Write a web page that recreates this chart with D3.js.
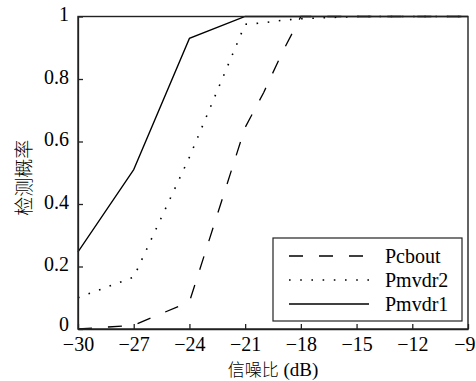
<!DOCTYPE html>
<html lang="zh">
<head>
<meta charset="utf-8">
<title>检测概率</title>
<style>
  body { margin: 0; background: #fff; }
</style>
</head>
<body>
<script src="https://cdn.jsdelivr.net/npm/d3@7"></script>
<script>
// data
var snr = [-30, -27, -24, -21, -20, -19, -18, -15, -12, -9];
var pcbout  = [0, 0.012, 0.087, 0.645, 0.757, 0.885, 1, 1, 1, 1];
var pmvdr2  = [0.10, 0.166, 0.55, 0.975, 0.98, 0.988, 0.993, 1, 1, 1];
var pmvdr1  = [0.247, 0.51, 0.93, 1, 1, 1, 1, 1, 1, 1];
var xTicks = [-30, -27, -24, -21, -18, -15, -12, -9];
var yTicks = [0, 0.2, 0.4, 0.6, 0.8, 1];
var names = ["Pcbout", "Pmvdr2", "Pmvdr1"];

var w = 476, h = 381;
var mLeft = 78, mRight = 468, mTop = 16.5, mBottom = 329;
var serif = "\"Liberation Serif\", \"Times New Roman\", Times, Tinos, \"Noto Serif\", \"DejaVu Serif\", FreeSerif, serif";
var cjk = "\"Noto Sans CJK SC\", sans-serif";

var svg = d3.select("body").append("svg").attr("width", w).attr("height", h);

var x = d3.scaleLinear().domain([-30, -9]).range([mLeft, mRight]);
var y = d3.scaleLinear().domain([0, 1]).range([mBottom, mTop]);

var styles = [
  {dash: "14,16", width: 1.3},
  {dash: "1.6,9.6", width: 1.6},
  {dash: null, width: 1.3}
];
var series = [pcbout, pmvdr2, pmvdr1];

var line = d3.line().x(function(d, i) { return x(snr[i]); }).y(function(d) { return y(d); });

series.forEach(function(s, k) {
  svg.append("path")
    .attr("d", line(s))
    .attr("fill", "none")
    .attr("stroke", "#000")
    .attr("stroke-width", styles[k].width)
    .attr("stroke-dasharray", styles[k].dash);
});

// axes: ticks inward, box without ticks on top/right
var xAxis = d3.axisBottom(x).tickValues(xTicks).tickSizeInner(-5).tickSizeOuter(0)
  .tickFormat(function(d) { return String(d).replace("-", "\u2212"); }).tickPadding(8);
var yAxis = d3.axisLeft(y).tickValues(yTicks).tickSizeInner(-5).tickSizeOuter(0)
  .tickFormat(function(d) { return d; }).tickPadding(9);

var gx = svg.append("g").attr("transform", "translate(0," + mBottom + ")").call(xAxis);
var gy = svg.append("g").attr("transform", "translate(" + mLeft + ",0)").call(yAxis);
[gx, gy].forEach(function(g) {
  g.selectAll("path, line").attr("stroke", "#222").attr("stroke-width", 1.3);
  g.selectAll("text").attr("fill", "#000")
    .style("font-family", serif).style("font-size", "20px");
});
gx.selectAll(".tick text").attr("dy", "0.72em");
gy.selectAll(".tick text").attr("dy", "0.2em");
// "0" sits right above "-30", lift it a bit like the original
gy.selectAll(".tick text").filter(function(d) { return d == 0; }).attr("dy", "0.05em");
// last label pulled in so it stays inside the window
gx.selectAll(".tick text").filter(function(d) { return d == -9; })
  .attr("text-anchor", "end").attr("x", 7);

svg.append("rect")
  .attr("x", mLeft).attr("y", mTop)
  .attr("width", mRight - mLeft).attr("height", mBottom - mTop)
  .attr("fill", "none").attr("stroke", "#222").attr("stroke-width", 1.4);

// axis titles
svg.append("text")
  .attr("transform", "translate(" + 31 + "," + ((mTop + mBottom) / 2 + 5) + ") rotate(-90)")
  .attr("text-anchor", "middle")
  .style("font-family", cjk).style("font-weight", 300).style("font-size", "19px")
  .text("检测概率");

var xl = svg.append("text")
  .attr("x", (mLeft + mRight) / 2).attr("y", 376)
  .attr("text-anchor", "middle")
  .style("font-family", serif).style("font-size", "19px");
xl.append("tspan").style("font-family", cjk).style("font-weight", 300).style("font-size", "17px").text("信噪比");
xl.append("tspan").text(" (dB)");

// legend
var lg = svg.append("g");
lg.append("rect")
  .attr("x", 273).attr("y", 238).attr("width", 189).attr("height", 83)
  .attr("fill", "#fff").attr("stroke", "#222").attr("stroke-width", 1.2);
names.forEach(function(n, k) {
  var yy = 256 + k * 24;
  lg.append("line")
    .attr("x1", 289).attr("x2", 369).attr("y1", yy).attr("y2", yy)
    .attr("stroke", "#000")
    .attr("stroke-width", styles[k].width)
    .attr("stroke-dasharray", styles[k].dash);
  lg.append("text")
    .attr("x", 385).attr("y", yy + 7)
    .style("font-family", serif).style("font-size", "20px")
    .text(n);
});
</script>
</body>
</html>
